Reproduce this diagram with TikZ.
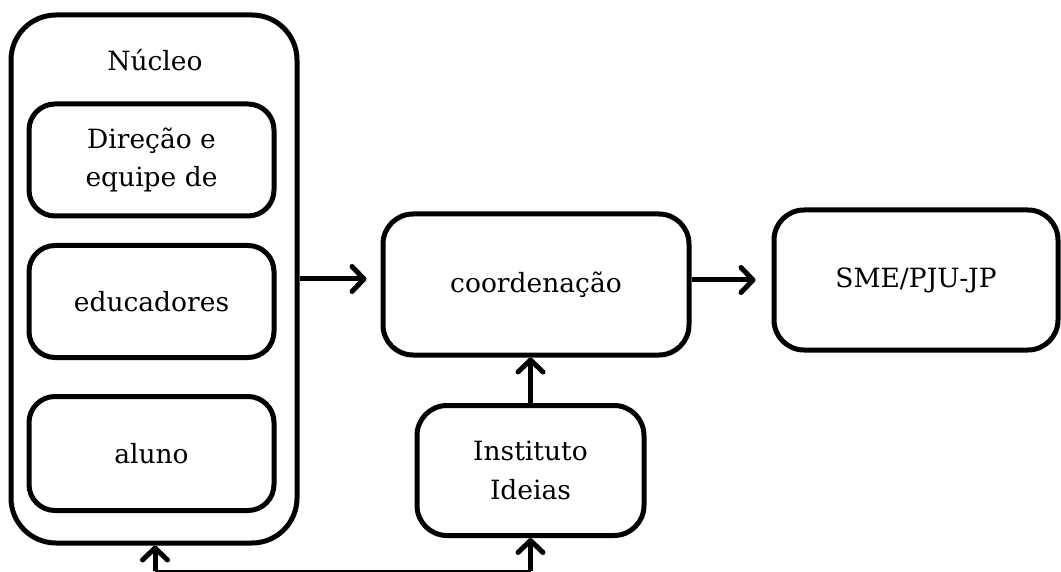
\documentclass[tikz,border=0pt]{standalone}
\usepackage{fontspec}
\setmainfont{DejaVu Serif}
\usetikzlibrary{arrows.meta}

\tikzset{
  box/.style={draw, line width=5pt, rounded corners=#1, align=center,
    inner sep=0pt, font=\fontsize{26.5}{38.5}\selectfont},
  box/.default=28pt,
  flow/.style={line width=5pt,
    -{Straight Barb[length=12pt,width=25pt,line width=5pt,round]}},
  link/.style={line width=2.5pt},
  label/.style={font=\fontsize{26.5}{38.5}\selectfont, inner sep=0pt}
}

\begin{document}
\begin{tikzpicture}[x=1pt,y=-1pt]
  \useasboundingbox (0,0) rectangle (1061,572);

  % container for the school core and its three groups
  \node[box=45pt, minimum width=286pt, minimum height=528pt] (nucleo) at (154,279) {};
  \node[label] (nucleotitle) at (155,60) {Núcleo};
  \node[box=26pt, minimum width=245pt, minimum height=112pt] (direcao) at (151.5,160) {Direção e\\equipe de};
  \node[box=26pt, minimum width=245pt, minimum height=112pt] (educ) at (151.5,301.5) {educadores};
  \node[box=26pt, minimum width=245pt, minimum height=114pt] (aluno) at (151.5,453.5) {aluno};

  % coordination, secretariat and institute
  \node[box=30pt, minimum width=306pt, minimum height=141pt] (coord) at (536,284.5) {coordenação};
  \node[box=30pt, minimum width=284pt, minimum height=140pt] (sme) at (916,280) {SME/PJU-JP};
  \node[box=30pt, minimum width=227pt, minimum height=130pt] (inst) at (530.5,470.5) {Instituto\\Ideias};

  % connectors
  \draw[flow, shorten >=14pt] (nucleo.east) -- (coord.west |- nucleo.east);
  \draw[flow, shorten >=16pt] (coord.east |- sme.west) -- (sme.west);
  \draw[flow] (inst.north) -- (inst.north |- coord.south);

  \coordinate (b1) at (155,571);
  \coordinate (b2) at (530.5,571);
  \draw[link] (b1) -- (b2);
  \draw[flow] (b1) -- (b1 |- nucleo.south);
  \draw[flow] (b2) -- (inst.south);
\end{tikzpicture}
\end{document}
